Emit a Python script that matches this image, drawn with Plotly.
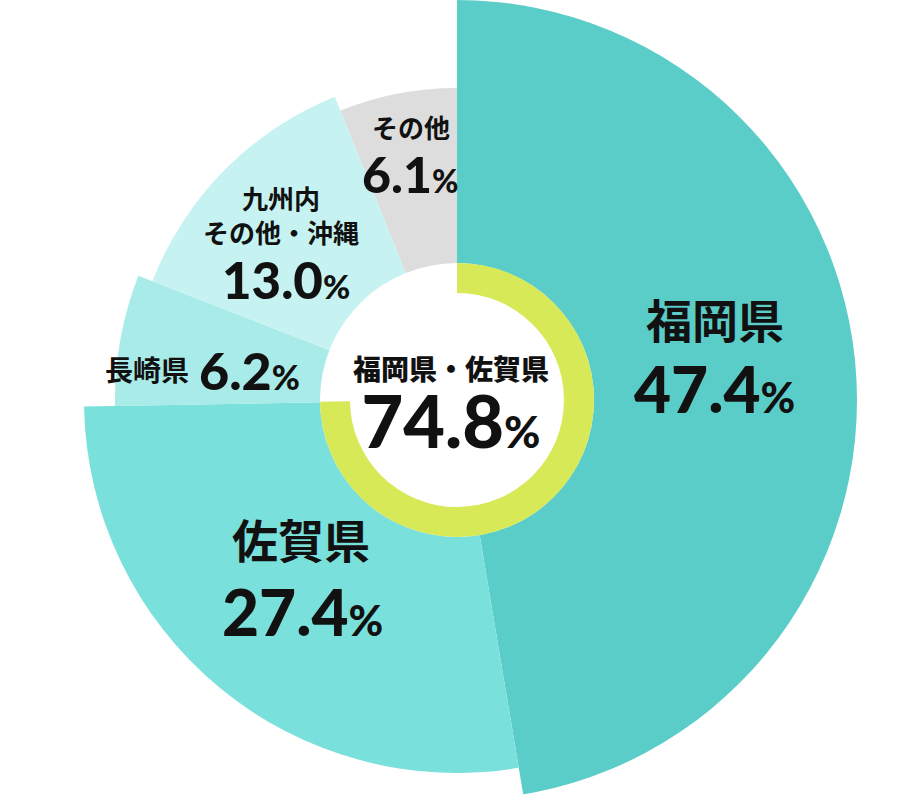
import plotly.graph_objects as go

# ---- data ----
regions = ["福岡県", "佐賀県", "長崎県", "九州内<br>その他・沖縄", "その他"]
percent = [47.4, 27.4, 6.2, 13.0, 6.1]
combined_label = "福岡県・佐賀県"
combined_percent = 74.8

# ---- style ----
outer_radius = [403, 373, 342, 327, 312]
colors = ["#5BCDC8", "#7AE0DC", "#A8EBE8", "#C6F3F1", "#DDDDDD"]
ring_color = "#D7E956"
hole_r = 137
ring_inner = 107

total = sum(percent)
widths = [p / total * 360 for p in percent]
thetas = []
acc = 0
for w in widths:
    thetas.append(acc + w / 2)
    acc += w

fig = go.Figure()
fig.add_trace(go.Barpolar(
    r=outer_radius, theta=thetas, width=widths, base=0,
    marker=dict(color=colors, line=dict(width=0)), hoverinfo="skip",
))
# white center
fig.add_trace(go.Barpolar(
    r=[hole_r, hole_r], theta=[90, 270], width=[180, 180], base=0,
    marker=dict(color="white", line=dict(width=0)), hoverinfo="skip",
))
ring_w = combined_percent / 100 * 360
fig.add_trace(go.Barpolar(
    r=[hole_r - ring_inner], theta=[ring_w / 2], width=[ring_w], base=ring_inner,
    marker=dict(color=ring_color, line=dict(width=0)), hoverinfo="skip",
))

W, H = 920, 800
cx, cy, R = 457, 400, 400

fig.update_layout(
    width=W, height=H, margin=dict(l=0, r=0, t=0, b=0),
    paper_bgcolor="white", plot_bgcolor="white", showlegend=False,
    polar=dict(
        domain=dict(x=[(cx - R) / W, (cx + R) / W], y=[(H - cy - R) / H, (H - cy + R) / H]),
        bgcolor="white",
        radialaxis=dict(visible=False, range=[0, R]),
        angularaxis=dict(visible=False, direction="clockwise", rotation=90),
        bargap=0,
    ),
)

JP = "Noto Sans CJK JP"
NUM = "Lato Black, Lato"


def ann(px, py, text, size, family=JP, weight=700):
    fig.add_annotation(
        x=px / W, y=1 - py / H, xref="paper", yref="paper",
        xanchor="center", yanchor="middle", showarrow=False,
        text=text, font=dict(family=family, size=size, color="#111111", weight=weight),
    )


def num(value, pct_size):
    return f"{value:.1f}<span style='font-size:{pct_size}px'>%</span>"


# 福岡県
ann(715, 318, regions[0], 46)
ann(714, 388, num(percent[0], 42), 64, NUM, 900)
# 佐賀県
ann(301, 538, regions[1], 46)
ann(302, 611, num(percent[1], 42), 64, NUM, 900)
# 長崎県
ann(147, 369, regions[2], 28)
ann(249, 370, num(percent[2], 34), 52, NUM, 900)
# 九州内 その他・沖縄
ann(281, 214, regions[3], 26)
ann(286, 279, num(percent[3], 33), 51, NUM, 900)
# その他
ann(411, 127, regions[4], 26)
ann(410, 174, num(percent[4], 32), 50, NUM, 900)
# center: label + big number in one text block
center_text = (
    f"<span style='font-size:28px;font-family:\"{JP}\"'>{combined_label}</span><br>"
    f"<span style='font-size:72px'>{combined_percent:.1f}</span>"
    f"<span style='font-size:44px'>%</span>"
)
ann(451, 405, center_text, 52, NUM, 900)

fig.write_html(
    "out.html",
    config={"displayModeBar": False},
    post_script="document.body.style.margin='0';document.body.style.overflow='hidden';",
)
